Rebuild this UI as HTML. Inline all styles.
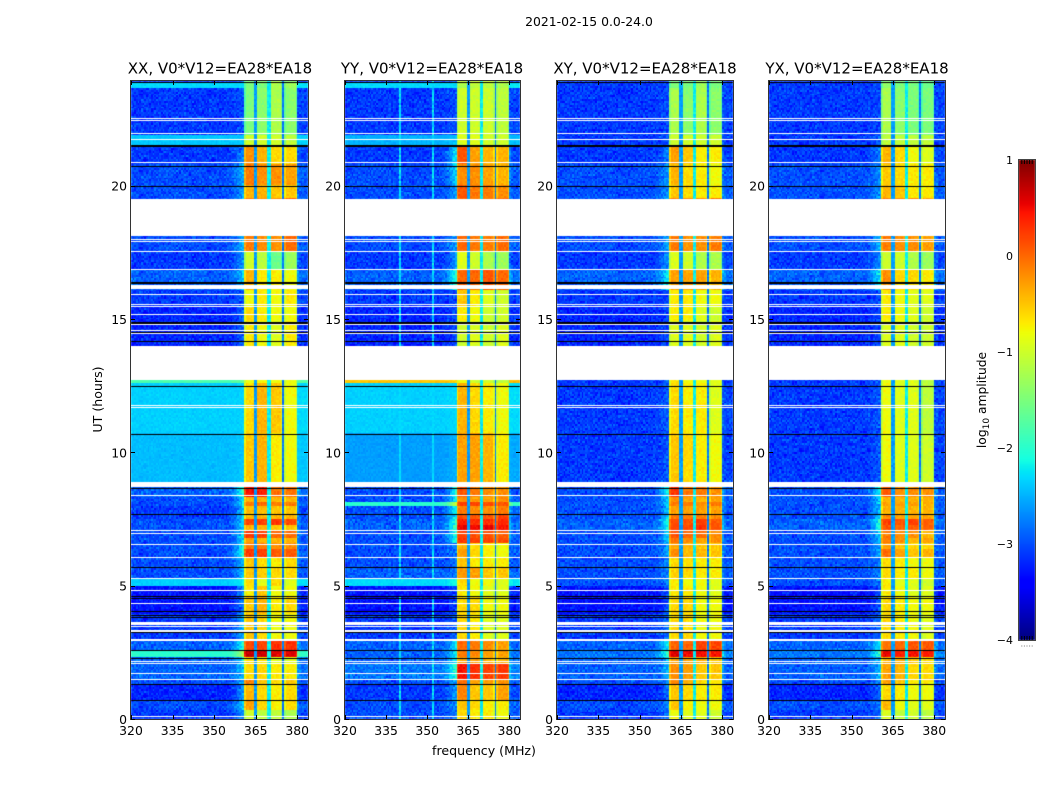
<!DOCTYPE html>
<html lang="en">
<head>
<meta charset="utf-8">
<title>2021-02-15 0.0-24.0</title>
<style>
html,body{margin:0;padding:0;background:#fff;}
#figure{position:relative;width:1050px;height:800px;overflow:hidden;background:#fff;font-family:"DejaVu Sans","Liberation Sans",sans-serif;color:#000;}
canvas{position:absolute;left:0;top:0;}
svg{position:absolute;left:0;top:0;}
text{font-family:"DejaVu Sans","Liberation Sans",sans-serif;fill:#000;}
</style>
</head>
<body>
<div id="figure">
<canvas id="heat-xx" width="1050" height="800"></canvas>
<canvas id="heat-yy" width="1050" height="800"></canvas>
<canvas id="heat-xy" width="1050" height="800"></canvas>
<canvas id="heat-yx" width="1050" height="800"></canvas>
<canvas id="heat-cb" width="1050" height="800"></canvas>
<svg id="overlay" width="1050" height="800" viewBox="0 0 1050 800">
<text x="589" y="26" font-size="12.4" text-anchor="middle">2021-02-15 0.0-24.0</text>
<text x="220" y="73.5" font-size="15" text-anchor="middle">XX, V0*V12=EA28*EA18</text>
<text x="432" y="73.5" font-size="15" text-anchor="middle">YY, V0*V12=EA28*EA18</text>
<text x="645" y="73.5" font-size="15" text-anchor="middle">XY, V0*V12=EA28*EA18</text>
<text x="857" y="73.5" font-size="15" text-anchor="middle">YX, V0*V12=EA28*EA18</text>
<text x="484" y="755" font-size="12.6" text-anchor="middle">frequency (MHz)</text>
<text x="0" y="0" font-size="12.6" text-anchor="middle" transform="translate(102 399.5) rotate(-90)">UT (hours)</text>
<text x="0" y="0" font-size="12.3" text-anchor="middle" transform="translate(986 400) rotate(-90)">log<tspan font-size="9" dy="3">10</tspan><tspan dy="-3"> amplitude</tspan></text>
</svg>
</div>
<script>
// ---- tick labels ----
const xTickValues = [320, 335, 350, 365, 380];
const yTickValues = [0, 5, 10, 15, 20];
const colorbarTickValues = [1, 0, -1, -2, -3, -4];
const colorbarMinorTicks = [0, 1, 2, 3, 4];

// ---- UT band edges (hours): every panel row below spans two adjacent edges ----
const utEdges = [0,0.35,0.7,1.3,1.5,2.1,2.32,2.58,3,3.9,4.6,5,5.26,5.7,6.1,6.37,6.55,6.82,7.08,7.28,7.5,7.67,7.95,8.1,8.32,8.8,10.7,12.6,12.72,14.9,15.5,16.1,16.9,17.5,19.5,20,20.8,21.5,21.9,23.69,23.84,23.95];

// ---- log10 amplitude per band: background, shoulder, then the four sub-bands ----
const xxBands = [
[-3.1,-2.6,-1.0,-1.1,-1.1,-1.2],[-3.0,-2.4,-0.3,-0.6,-0.7,-0.6],[-3.2,-2.6,-0.4,-0.6,-0.7,-0.6],[-3.0,-2.5,-0.1,-0.5,-0.6,-0.5],
[-2.9,-2.4,-0.6,-0.6,-0.7,-0.7],[-2.9,-2.2,-0.6,-0.7,-0.9,-0.9],[-2.0,-1.2,0.7,0.65,0.6,0.6],[-2.9,-2.0,0.15,0.2,0.3,0.3],
[-3.1,-2.5,-0.5,-0.6,-0.8,-0.8],[-3.3,-2.7,-0.5,-0.4,-0.7,-0.6],[-3.3,-2.7,-0.7,-0.5,-0.8,-0.8],[-2.35,-2.2,-0.6,-0.9,-0.6,-0.9],
[-3.0,-2.4,-0.5,-0.55,-0.6,-0.6],[-3.0,-2.4,-0.5,-0.6,-0.7,-0.6],[-3.0,-2.0,0.25,0.2,0.1,0.1],[-3.0,-2.1,-0.1,-0.1,-0.2,-0.2],
[-3.0,-2.3,-0.3,-0.4,-0.4,-0.4],[-3.0,-2.2,0.3,0.2,0,0],[-3.0,-2.3,-0.4,-0.4,-0.5,-0.5],[-3.0,-2.2,0.2,0.2,0.25,0.15],
[-3.1,-2.4,-0.4,-0.4,-0.4,-0.4],[-3.1,-2.4,-0.45,-0.45,-0.5,-0.5],[-3.0,-2.2,-0.1,0,-0.1,-0.1],[-3.0,-2.3,-0.4,-0.4,-0.4,-0.4],
[-2.9,-1.9,0.45,0.4,-0.05,-0.05],[-2.45,-2.4,-0.5,-0.4,-0.7,-0.8],
[-2.35,-2.35,-0.6,-0.4,-0.5,-0.8],[-1.8,-1.6,-0.8,-0.8,-0.8,-0.8],[-3.2,-2.9,-0.7,-0.8,-0.9,-0.7],[-3.2,-2.9,-0.6,-0.7,-0.8,-0.8],
[-3.1,-2.9,-0.8,-0.7,-0.8,-0.7],[-2.9,-2.4,-0.4,-0.7,-0.7,-0.8],[-3.1,-2.6,-1.0,-1.1,-1.6,-1.3],[-3.0,-2.5,-0.1,-0.2,-0.2,0],
[-3.0,-2.6,-0.4,-0.4,-0.5,-0.5],[-3.0,-2.5,-0.1,-0.2,-0.2,-0.3],[-3.1,-2.7,-0.2,-0.4,-0.6,-0.6],[-2.4,-2.4,-1.0,-1.0,-1.0,-1.1],
[-3.1,-3.0,-1.5,-1.4,-1.2,-1.4],[-2.3,-2.3,-1.5,-1.5,-1.2,-1.3],[-3.1,-3.0,-1.5,-1.4,-1.2,-1.4]
];
const yyBands = [
[-3.0,-2.8,-0.6,-0.7,-0.7,-0.8],[-3.0,-2.7,-0.5,-0.6,-0.7,-0.7],[-3.1,-2.6,-0.15,-0.5,-0.5,-0.3],[-3.0,-2.5,0,-0.3,-0.3,-0.2],
[-2.8,-1.9,0.45,0.3,0.2,0.25],[-2.9,-2.2,-0.3,-0.3,-0.4,-0.4],[-2.9,-2.2,-0.1,-0.2,-0.3,-0.3],[-2.9,-2.2,0,-0.1,-0.2,-0.3],
[-3.1,-2.9,-0.6,-0.7,-0.9,-0.9],[-3.3,-3.0,-0.6,-0.6,-0.8,-0.8],[-3.3,-3.0,-0.7,-0.8,-0.9,-0.9],[-2.3,-2.1,-0.6,-0.8,-0.8,-0.9],
[-2.9,-2.8,-0.25,-0.3,-0.5,-0.5],[-3.0,-2.8,-0.5,-0.7,-0.7,-0.7],[-3.0,-2.8,-0.3,-0.6,-0.7,-0.8],[-3.0,-2.8,-0.4,-0.6,-0.7,-0.8],
[-3.0,-2.0,0.25,0.2,0.2,0.15],[-3.0,-2.0,0.2,0.15,0.15,0.05],[-2.9,-1.8,0.6,0.5,0.55,0.45],[-2.9,-1.8,0.4,0.3,0.3,0.35],
[-3.0,-2.1,0.15,0.1,0.1,0.2],[-3.0,-2.1,-0.1,-0.2,-0.2,-0.1],[-2.0,-1.0,0.2,0.2,0.15,0.1],[-3.0,-2.2,-0.2,-0.3,-0.3,-0.2],
[-3.0,-2.0,0.1,-0.1,-0.2,-0.2],[-2.6,-2.5,-0.3,-0.3,-0.4,-0.7],
[-2.35,-2.3,-0.4,-0.6,-0.7,-0.8],[-0.5,-0.6,-0.8,-1.0,-1.0,-1.1],[-3.2,-3.0,-1.0,-0.9,-1.0,-0.9],[-3.2,-3.0,-0.7,-0.8,-1.0,-1.0],
[-3.1,-3.0,-0.5,-0.7,-0.9,-1.0],[-2.9,-2.0,0,0,0.1,0],[-3.1,-2.6,-0.9,-1.0,-1.2,-1.3],[-3.0,-2.6,0,-0.1,-0.1,0],
[-3.0,-2.6,0.1,-0.1,-0.1,-0.2],[-3.0,-2.3,-0.2,-0.2,-0.3,-0.4],[-3.1,-2.2,0.1,-0.3,-0.4,-0.4],[-2.5,-2.4,-0.9,-0.9,-1.0,-1.0],
[-3.1,-3.0,-1.0,-1.0,-1.0,-1.1],[-2.3,-2.3,-1.2,-1.1,-1.1,-1.2],[-3.1,-3.0,-1.0,-1.0,-1.0,-1.1]
];
const xyBands = [
[-3.1,-2.8,-0.8,-0.9,-0.9,-1.0],[-3.0,-2.7,-0.5,-0.7,-0.8,-0.8],[-3.2,-2.8,-0.5,-0.6,-0.7,-0.7],[-3.0,-2.6,-0.15,-0.4,-0.6,-0.7],
[-2.9,-2.4,-0.2,-0.3,-0.5,-0.5],[-2.9,-2.3,-0.3,-0.3,-0.4,-0.5],[-2.8,-1.8,0.6,0.55,0.5,0.45],[-2.9,-2.1,0.05,0,0.2,0.2],
[-3.1,-2.8,-0.6,-0.6,-0.8,-0.8],[-3.3,-2.9,-0.6,-0.6,-0.8,-0.8],[-3.3,-2.9,-0.7,-0.7,-0.8,-0.9],[-3.0,-2.7,-0.7,-0.8,-0.8,-0.9],
[-3.0,-2.7,-0.55,-0.6,-0.7,-0.7],[-3.0,-2.7,-0.6,-0.65,-0.7,-0.7],[-3.0,-2.5,-0.2,-0.4,-0.4,-0.5],[-3.0,-2.5,-0.3,-0.4,-0.5,-0.5],
[-3.0,-2.3,-0.05,-0.2,-0.3,-0.2],[-3.0,-2.3,0.1,0,0,-0.2],[-2.9,-1.9,0.2,0.15,0.3,0.1],[-2.9,-1.9,0.15,0.1,0.25,0.1],
[-3.0,-2.2,-0.1,-0.1,-0.1,-0.2],[-3.0,-2.3,-0.3,-0.3,-0.3,-0.3],[-3.0,-2.3,-0.1,-0.1,-0.2,-0.1],[-3.0,-2.3,-0.2,-0.3,-0.4,-0.3],
[-3.0,-2.0,0.3,-0.1,-0.1,-0.2],[-3.1,-2.9,-0.5,-0.6,-0.7,-0.8],
[-3.1,-2.9,-0.6,-0.7,-0.7,-0.9],[-3.1,-2.9,-0.7,-0.8,-0.8,-0.9],[-3.2,-3.0,-0.9,-0.9,-1.0,-0.9],[-3.2,-3.0,-0.7,-0.7,-0.9,-1.0],
[-3.1,-3.0,-0.7,-0.7,-0.8,-0.8],[-2.9,-2.1,-0.3,-0.3,-0.3,-0.4],[-3.1,-2.6,-0.9,-1.0,-1.2,-1.2],[-3.0,-2.5,-0.1,-0.2,-0.2,-0.1],
[-3.0,-2.6,-0.5,-0.6,-0.7,-0.7],[-3.0,-2.6,-0.4,-0.6,-0.7,-0.8],[-3.1,-2.7,-0.3,-0.5,-0.7,-0.7],[-3.1,-2.9,-1.0,-1.0,-1.0,-1.0],
[-3.1,-3.0,-1.2,-1.4,-1.2,-1.4],[-3.1,-3.0,-1.5,-1.5,-1.3,-1.5],[-3.1,-3.0,-1.5,-1.5,-1.3,-1.5]
];
const yxBands = [
[-3.1,-2.8,-0.9,-1.1,-1.0,-1.1],[-3.0,-2.8,-0.4,-0.8,-0.9,-0.9],[-3.2,-2.8,-0.6,-0.7,-0.8,-0.8],[-3.0,-2.6,-0.3,-0.5,-0.7,-0.7],
[-2.9,-2.4,-0.3,-0.4,-0.6,-0.6],[-2.9,-2.3,-0.4,-0.4,-0.5,-0.6],[-2.8,-1.8,0.55,0.4,0.45,0.4],[-2.9,-2.1,-0.05,0,0.1,0.1],
[-3.1,-2.8,-0.6,-0.7,-0.8,-0.9],[-3.3,-2.9,-0.6,-0.7,-0.8,-0.8],[-3.3,-2.9,-0.7,-0.8,-0.9,-0.9],[-3.0,-2.7,-0.7,-0.9,-0.9,-1.0],
[-3.0,-2.7,-0.6,-0.7,-0.7,-0.8],[-3.0,-2.7,-0.6,-0.7,-0.8,-0.8],[-3.0,-2.5,0,-0.3,-0.5,-0.4],[-3.0,-2.5,-0.3,-0.5,-0.6,-0.6],
[-3.0,-2.3,-0.1,-0.2,-0.4,-0.3],[-3.0,-2.3,-0.1,-0.2,-0.2,-0.4],[-2.9,-1.9,0.1,0,0.05,0],[-2.9,-1.9,0.2,0.1,0.2,0.05],
[-3.0,-2.2,-0.2,-0.3,-0.3,-0.3],[-3.0,-2.3,-0.4,-0.4,-0.4,-0.4],[-3.0,-2.3,-0.3,-0.3,-0.3,-0.4],[-3.0,-2.3,-0.4,-0.4,-0.4,-0.4],
[-3.0,-2.0,0.1,-0.2,-0.2,-0.2],[-3.1,-2.9,-0.8,-0.9,-0.9,-1.0],
[-3.1,-2.9,-0.8,-0.9,-0.9,-1.1],[-3.1,-2.9,-0.8,-0.9,-0.9,-1.1],[-3.2,-3.0,-0.9,-0.9,-1.0,-1.0],[-3.2,-3.0,-0.7,-0.8,-0.9,-1.0],
[-3.1,-3.0,-0.7,-0.8,-0.9,-0.9],[-2.9,-2.1,-0.2,-0.6,-0.6,-0.7],[-3.1,-2.6,-1.0,-1.0,-1.2,-1.3],[-3.0,-2.4,-0.1,-0.2,-0.2,-0.3],
[-3.0,-2.6,-0.4,-0.5,-0.7,-0.7],[-3.0,-2.6,-0.5,-0.6,-0.7,-0.7],[-3.1,-2.7,-0.4,-0.6,-0.8,-0.9],[-3.1,-2.9,-1.1,-1.1,-1.1,-1.1],
[-3.1,-3.0,-1.2,-1.4,-1.5,-1.5],[-3.1,-3.0,-1.4,-1.5,-1.5,-1.6],[-3.1,-3.0,-1.4,-1.5,-1.5,-1.6]
];

// ---- receiver band layout (MHz) ----
const subBandEdges = [360.6, 365.1, 369.9, 374.9, 379.9];
const notchLevels = [-2.6, -2.2, -2.8];
const yyInterferenceMHz = [340, 352];

// ---- flagged (no data) spans in UT hours and dark flag lines ----
const flaggedSpans = [[0.07,0.11],[1.47,1.51],[1.69,1.73],[2.07,2.11],[2.15,2.19],[2.92,3.0],[3.28,3.32],[3.44,3.48],[3.51,3.55],[3.58,3.62],[4.32,4.36],[4.79,4.83],[5.24,5.29],[6.04,6.08],[6.53,6.57],[6.94,6.98],[7.04,7.08],[8.36,8.4],[8.68,8.88],[11.65,11.69],[11.75,11.79],[12.72,13.98],[14.44,14.48],[14.56,14.6],[14.78,14.82],[15.15,15.19],[15.46,15.5],[15.52,15.56],[15.91,15.95],[16.12,16.29],[16.83,16.87],[17.5,17.54],[17.9,17.94],[17.97,18.01],[18.12,19.5],[20.85,20.89],[21.7,21.74],[21.93,21.97],[22.43,22.47],[22.49,22.53]];
const darkLines = [0.71,1.31,2.29,2.59,3.26,3.83,3.9,4.06,4.55,4.6,5.71,7.67,8.66,10.67,12.48,14.19,14.52,14.85,14.89,16.35,16.38,20.0,20.75,21.49,21.53,23.88];

// ---- hand-read speckle offsets for channel-to-channel noise ----
const speckle = [0.6,-0.4,0.1,-0.9,0.8,-0.2,0.3,-0.7,-0.1,0.9,-0.5,0.2,-0.8,0.5,0,-0.3,0.7,-0.6,0.4,-1,0.2,0.6,-0.2,-0.7,1,-0.4,0.1,0.5,-0.9,0.3,-0.1,0.8,-0.5,-0.3,0.6,0,-0.8,0.4,-0.6,0.2,0.7];

// ---- panels ----
const panelList = [
  {id:"xx", left:131, right:308, bands:xxBands, rfi:[]},
  {id:"yy", left:345, right:520, bands:yyBands, rfi:yyInterferenceMHz},
  {id:"xy", left:557, right:733, bands:xyBands, rfi:[]},
  {id:"yx", left:769, right:945, bands:yxBands, rfi:[]}
];
const PLOT_TOP = 81, PLOT_BOTTOM = 719, UT_MAX = 23.92, F_MIN = 320, F_MAX = 383.9;
const CHANNEL_MHZ = 0.6, ROW_HOURS = 0.07;

function yScale(ut){ return PLOT_BOTTOM - ut / UT_MAX * (PLOT_BOTTOM - PLOT_TOP); }
function xScale(p, mhz){ return p.left + (mhz - F_MIN) / (F_MAX - F_MIN) * (p.right - p.left); }

function interp(stops, t){
  for(let i = 1; i < stops.length; i++){
    if(t <= stops[i][0]){
      const a = stops[i-1], b = stops[i];
      return a[1] + (b[1]-a[1]) * (t-a[0]) / (b[0]-a[0]);
    }
  }
  return stops[stops.length-1][1];
}
const jetR = [[0,0],[0.35,0],[0.66,1],[0.89,1],[1,0.5]];
const jetG = [[0,0],[0.125,0],[0.375,1],[0.64,1],[0.91,0],[1,0]];
const jetB = [[0,0.5],[0.11,1],[0.34,1],[0.65,0],[1,0]];
function levelColor(level){
  const t = Math.min(1, Math.max(0, (level + 4) / 5));
  return "rgb(" + Math.round(interp(jetR,t)*255) + "," + Math.round(interp(jetG,t)*255) + "," + Math.round(interp(jetB,t)*255) + ")";
}
function bandIndex(ut){
  for(let i = 0; i < utEdges.length - 1; i++){ if(ut < utEdges[i+1]) return i; }
  return utEdges.length - 2;
}
function noiseAt(c, r, pIndex){
  const n = speckle.length;
  return speckle[(c * 17 + r * r * 5 + pIndex * 3) % n] + speckle[(r * 29 + c * c * 3 + pIndex * 7) % n];
}
function cellLevel(p, ut, mhz, noise){
  const row = p.bands[bandIndex(ut)];
  const bg = row[0], sh = row[1];
  if(mhz >= subBandEdges[0] && mhz <= subBandEdges[4]){
    for(let k = 1; k < 4; k++){
      if(Math.abs(mhz - subBandEdges[k]) < 0.42) return notchLevels[k-1] + noise * 0.08;
    }
    let s = 0;
    while(s < 3 && mhz > subBandEdges[s+1]) s++;
    const edge = Math.min(Math.abs(mhz - subBandEdges[s]), Math.abs(mhz - subBandEdges[s+1]));
    return row[2+s] - (edge < 0.7 ? 0.25 : 0) + noise * 0.07;
  }
  let v = bg;
  if(mhz < subBandEdges[0] && mhz > 354){ const f = (mhz - 354) / (subBandEdges[0] - 354); v = bg + (sh - bg) * f * f; }
  if(mhz > subBandEdges[4]){ const f = Math.max(0, 1 - (mhz - subBandEdges[4]) / 1.3); v = bg + 0.05 + (sh - bg) * 0.5 * f; }
  for(const r of p.rfi){ if(Math.abs(mhz - r) < 0.3 && bandIndex(ut) !== 10) v = Math.max(v, -2.3); }
  return v + noise * (bg > -2.7 ? 0.05 : 0.17);
}

function drawPanel(p, pIndex){
  const ctx = document.getElementById("heat-" + p.id).getContext("2d");
  let c = 0;
  for(let f = F_MIN; f < F_MAX; f += CHANNEL_MHZ, c++){
    const x0 = Math.round(xScale(p, f));
    const x1 = Math.round(xScale(p, Math.min(F_MAX, f + CHANNEL_MHZ)));
    let r = 0;
    for(let t = 0; t < UT_MAX; t += ROW_HOURS, r++){
      const y0 = Math.round(yScale(Math.min(UT_MAX, t + ROW_HOURS)));
      const y1 = Math.round(yScale(t));
      ctx.fillStyle = levelColor(cellLevel(p, t + ROW_HOURS / 2, f + CHANNEL_MHZ / 2, noiseAt(c, r, pIndex)));
      ctx.fillRect(x0, y0, x1 - x0, y1 - y0);
    }
  }
  ctx.fillStyle = "#fff";
  for(const span of flaggedSpans){
    const top = Math.round(yScale(span[1]));
    ctx.fillRect(p.left, top, p.right - p.left, Math.max(1, Math.round(yScale(span[0])) - top));
  }
  ctx.fillStyle = "#000";
  for(const ut of darkLines){
    ctx.fillRect(p.left, Math.round(yScale(ut)), p.right - p.left, 1);
  }
}
panelList.forEach(drawPanel);

// ---- colorbar ----
const CB = {left:1019, right:1035, top:160, bottom:640};
function cbScale(level){ return CB.bottom - (level + 4) / 5 * (CB.bottom - CB.top); }
(function(){
  const ctx = document.getElementById("heat-cb").getContext("2d");
  for(let y = CB.top; y < CB.bottom; y++){
    const level = -4 + (CB.bottom - y - 0.5) / (CB.bottom - CB.top) * 5;
    ctx.fillStyle = levelColor(level);
    ctx.fillRect(CB.left, y, CB.right - CB.left, 1);
  }
})();

// ---- axes ----
const svg = document.getElementById("overlay");
const NS = "http://www.w3.org/2000/svg";
function makeLine(x1, y1, x2, y2, stroke){
  const l = document.createElementNS(NS, "line");
  l.setAttribute("x1", x1);
  l.setAttribute("y1", y1);
  l.setAttribute("x2", x2);
  l.setAttribute("y2", y2);
  l.setAttribute("stroke", stroke);
  l.setAttribute("stroke-width", "1");
  svg.appendChild(l);
  return l;
}
function makeText(x, y, str, anchor){
  const t = document.createElementNS(NS, "text");
  t.setAttribute("x", x);
  t.setAttribute("y", y);
  t.setAttribute("font-size", "12.4");
  t.setAttribute("text-anchor", anchor);
  t.textContent = str;
  svg.appendChild(t);
  return t;
}
panelList.forEach(function(p){
  const frame = document.createElementNS(NS, "rect");
  frame.setAttribute("x", p.left - 0.5);
  frame.setAttribute("y", PLOT_TOP - 0.5);
  frame.setAttribute("width", p.right - p.left + 1);
  frame.setAttribute("height", PLOT_BOTTOM - PLOT_TOP + 1);
  frame.setAttribute("fill", "none");
  frame.setAttribute("stroke", "#333");
  
  
  svg.appendChild(frame);
  xTickValues.forEach(function(v){
    const x = Math.round(xScale(p, v)) + 0.5;
    const bottomTick = makeLine(x, PLOT_BOTTOM, x, PLOT_BOTTOM - 4, "#000");
    
    
    const topTick = makeLine(x, PLOT_TOP, x, PLOT_TOP + 4, "#000");
    
    
    const label = makeText(xScale(p, v), 735, String(v), "middle");
    
    
  });
  yTickValues.forEach(function(v){
    const y = Math.round(yScale(v)) + 0.5;
    const leftTick = makeLine(p.left, y, p.left + 4, y, "#000");
    
    
    const rightTick = makeLine(p.right, y, p.right - 4, y, "#000");
    
    
    const label = makeText(p.left - 4, yScale(v) + 5, String(v), "end");
    
    
  });
});

const cbFrame = document.createElementNS(NS, "rect");
cbFrame.setAttribute("x", CB.left - 0.5);
cbFrame.setAttribute("y", CB.top - 0.5);
cbFrame.setAttribute("width", CB.right - CB.left + 1);
cbFrame.setAttribute("height", CB.bottom - CB.top + 1);
cbFrame.setAttribute("fill", "none");
cbFrame.setAttribute("stroke", "#444");


svg.appendChild(cbFrame);

colorbarTickValues.forEach(function(v){
  const label = makeText(CB.left - 6, cbScale(v) + 4, v < 0 ? "\u2212" + Math.abs(v) : String(v), "end");
  label.setAttribute("font-size", "11");
  
  
});
colorbarMinorTicks.forEach(function(i){
  const x = CB.left + 1.5 + (i + 0.5) * (CB.right - CB.left - 3) / colorbarMinorTicks.length;
  const topTick = makeLine(x, CB.top, x, CB.top + 4, "#000");
  
  
  const bottomTick = makeLine(x, CB.bottom, x, CB.bottom - 4, "#000");
  
  
  const dot = makeLine(x - 0.5, 646, x + 0.5, 646, "#777");
  
  
});
</script>
</body>
</html>
